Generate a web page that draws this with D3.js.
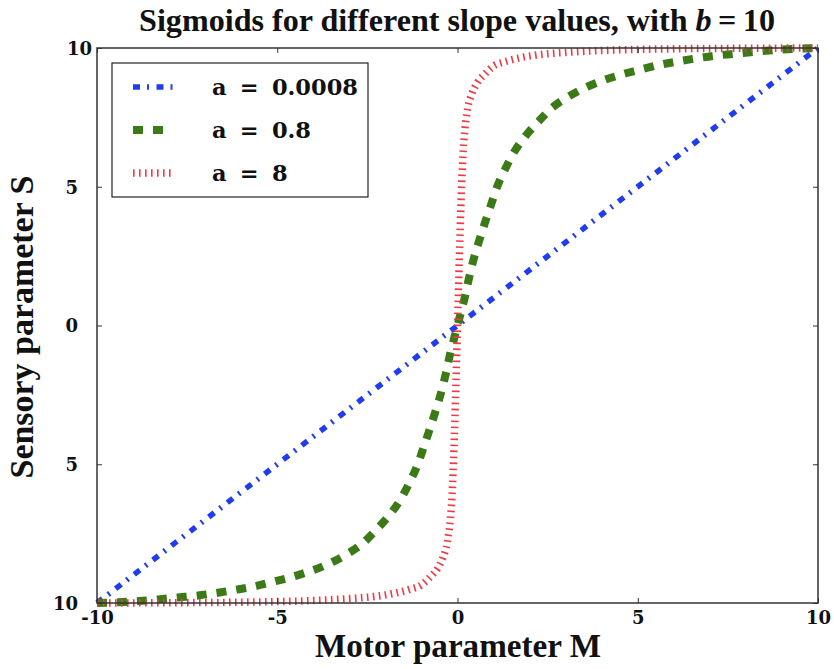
<!DOCTYPE html>
<html>
<head>
<meta charset="utf-8">
<script src="https://cdn.jsdelivr.net/npm/d3@7"></script>
<style>
  html, body { margin: 0; padding: 0; background: #fff; }
  svg { display: block; }
</style>
</head>
<body>
<svg id="chart" width="834" height="669"></svg>
<script>
// ---------- data ----------
const xTicks = [-10, -5, 0, 5, 10];
const xTickLabels = ["-10", "-5", "0", "5", "10"];
const yTicks = [10, 5, 0, -5, -10];
const yTickLabels = ["10", "5", "0", "5", "10"];

const seriesNames = ["a = 0.0008", "a = 0.8", "a = 8"];

const blueM = [-10, -5, 0, 5, 10];
const blueS = [-10, -5, 0, 5, 10];

const greenM = [-10, -9.4, -8.85, -8.3, -7.75, -7.2, -6.65, -6.13, -5.63, -5.1, -4.57, -4.06, -3.56, -3.08, -2.63, -2.23, -1.9, -1.57, -1.32, -1.1, -0.93, -0.76, -0.6, -0.43, -0.3, -0.2, -0.1,
                0, 0.1, 0.2, 0.3, 0.43, 0.6, 0.76, 0.93, 1.1, 1.32, 1.57, 1.9, 2.23, 2.63, 3.08, 3.56, 4.06, 4.57, 5.1, 5.63, 6.13, 6.65, 7.2, 7.75, 8.3, 8.85, 9.4, 10];
const greenS = [-10, -9.97, -9.93, -9.87, -9.8, -9.73, -9.63, -9.52, -9.4, -9.23, -9.05, -8.84, -8.58, -8.25, -7.85, -7.33, -6.85, -6.25, -5.63, -5.0, -4.35, -3.7, -3.05, -2.3, -1.6, -1.0, -0.5,
                0, 0.5, 1.0, 1.6, 2.3, 3.05, 3.7, 4.35, 5.0, 5.63, 6.25, 6.85, 7.33, 7.85, 8.25, 8.58, 8.84, 9.05, 9.23, 9.4, 9.52, 9.63, 9.73, 9.8, 9.87, 9.93, 9.97, 10];

const redM = [-10, -8, -6, -4, -3, -2.2, -1.75, -1.3, -1.0, -0.75, -0.55, -0.4, -0.28, -0.2, -0.15, -0.1, -0.05,
              0, 0.05, 0.1, 0.15, 0.2, 0.28, 0.4, 0.55, 0.75, 1.0, 1.3, 1.75, 2.2, 3, 4, 6, 8, 10];
const redS = [-10, -9.99, -9.97, -9.91, -9.84, -9.75, -9.65, -9.5, -9.35, -9.05, -8.75, -8.35, -7.8, -7.0, -6.1, -4.5, -2.4,
              0, 2.4, 4.5, 6.1, 7.0, 7.8, 8.35, 8.75, 9.05, 9.35, 9.5, 9.65, 9.75, 9.84, 9.91, 9.97, 9.99, 10];

// ---------- layout ----------
const svg = d3.select("#chart");
const pL = 97, pR = 818, pT = 48, pB = 603;
const x = d3.scaleLinear().domain([-10, 10]).range([pL, pR]);
const y = d3.scaleLinear().domain([-10, 10]).range([pB, pT]);

const serif = "'DejaVu Serif', serif";
const roman = "'Liberation Serif', 'DejaVu Serif', serif";

function fitWidth(sel, target) {
  const node = sel.node();
  const fs = parseFloat(sel.attr("font-size"));
  const w = node.getComputedTextLength();
  if (w > 0) sel.attr("font-size", (fs * target / w).toFixed(2));
  return sel;
}

// ---------- curves ----------
svg.append("clipPath").attr("id", "clip")
  .append("rect").attr("x", pL - 6).attr("y", pT - 6)
  .attr("width", pR - pL + 12).attr("height", pB - pT + 12);
const plot = svg.append("g");

const line = d3.line().x(d => x(d[0])).y(d => y(d[1])).curve(d3.curveMonotoneX);

const series = [
  { name: seriesNames[0], M: blueM, S: blueS, color: "#1f3cf0", width: 5.5, dash: "7,7,2,7.5" },
  { name: seriesNames[1], M: greenM, S: greenS, color: "#3b7a16", width: 8, dash: "10,10" },
  { name: seriesNames[2], M: redM, S: redS, color: "#ee3a44", width: 7.5, dash: "1.6,4.4" }
];

series.forEach(s => {
  const pts = s.M.map((m, i) => [m, s.S[i]]);
  plot.append("path")
    .attr("d", line(pts))
    .attr("fill", "none")
    .attr("stroke", s.color)
    .attr("stroke-width", s.width)
    .attr("stroke-dasharray", s.dash)
    .attr("stroke-linecap", "butt")
    .attr("clip-path", "url(#clip)");
});

// ---------- frame & ticks ----------
svg.append("rect")
  .attr("x", pL).attr("y", pT)
  .attr("width", pR - pL).attr("height", pB - pT)
  .attr("fill", "none").attr("stroke", "#333").attr("stroke-width", 1.5);

const xb = svg.append("g").attr("transform", `translate(0,${pB})`)
  .call(d3.axisBottom(x).tickValues(xTicks).tickSize(-5).tickPadding(14)
    .tickFormat((d, i) => xTickLabels[i]));
const xt = svg.append("g").attr("transform", `translate(0,${pT})`)
  .call(d3.axisTop(x).tickValues(xTicks).tickSize(-5).tickFormat(""));
const yl = svg.append("g").attr("transform", `translate(${pL},0)`)
  .call(d3.axisLeft(y).tickValues(yTicks).tickSize(-5).tickPadding(19)
    .tickFormat((d, i) => yTickLabels[i]));
const yr = svg.append("g").attr("transform", `translate(${pR},0)`)
  .call(d3.axisRight(y).tickValues(yTicks).tickSize(-5).tickFormat(""));

[xb, xt, yl, yr].forEach(g => {
  g.select(".domain").remove();
  g.selectAll(".tick line").attr("stroke", "#333").attr("stroke-width", 1);
  g.selectAll(".tick text")
    .attr("font-family", serif).attr("font-weight", "bold")
    .attr("font-size", 18).attr("fill", "#111");
});
xb.selectAll(".tick text").attr("dy", null).attr("y", 21);
yl.selectAll(".tick text").attr("dy", "0.36em")
  .attr("x", d => d === d3.max(yTicks) ? -5 : -19);

// ---------- titles ----------
const title = svg.append("text")
  .attr("x", 457).attr("y", 31).attr("text-anchor", "middle")
  .attr("font-family", roman).attr("font-weight", "bold")
  .attr("font-size", 26).attr("fill", "#111");
title.append("tspan").text("Sigmoids for different slope values, with ");
title.append("tspan").attr("font-style", "italic").text("b");
title.append("tspan").text("\u2009=\u200910");
fitWidth(title, 636);

const xl = svg.append("text")
  .attr("x", 458).attr("y", 657).attr("text-anchor", "middle")
  .attr("font-family", roman).attr("font-weight", "bold")
  .attr("font-size", 28).attr("fill", "#111")
  .text("Motor parameter M");
fitWidth(xl, 286);

const ylab = svg.append("text")
  .attr("transform", `translate(33,327) rotate(-90)`)
  .attr("text-anchor", "middle")
  .attr("font-family", roman).attr("font-weight", "bold")
  .attr("font-size", 28).attr("fill", "#111")
  .text("Sensory parameter S");
fitWidth(ylab, 303);

// ---------- legend ----------
const lg = svg.append("g");
lg.append("rect")
  .attr("x", 112).attr("y", 63).attr("width", 256).attr("height", 134)
  .attr("fill", "#fff").attr("stroke", "#222").attr("stroke-width", 1.2);
const rowY = [87, 130, 173];
let legendWs = 0;
series.forEach((s, i) => {
  lg.append("line")
    .attr("x1", 133).attr("x2", 173).attr("y1", rowY[i]).attr("y2", rowY[i])
    .attr("stroke", s.color).attr("stroke-width", s.width)
    .attr("stroke-dasharray", s.dash).attr("stroke-linecap", "butt");
  const t = lg.append("text")
    .attr("x", 212).attr("y", rowY[i]).attr("dy", "0.36em")
    .attr("font-family", serif).attr("font-weight", "bold")
    .attr("font-size", 22.5).attr("fill", "#111")
    .text(s.name);
  if (i === 0) {
    const w = t.node().getComputedTextLength();
    legendWs = Math.max(-3, Math.min(8, (146 - w) / 2));
  }
  t.attr("word-spacing", legendWs.toFixed(2));
});
</script>
</body>
</html>
